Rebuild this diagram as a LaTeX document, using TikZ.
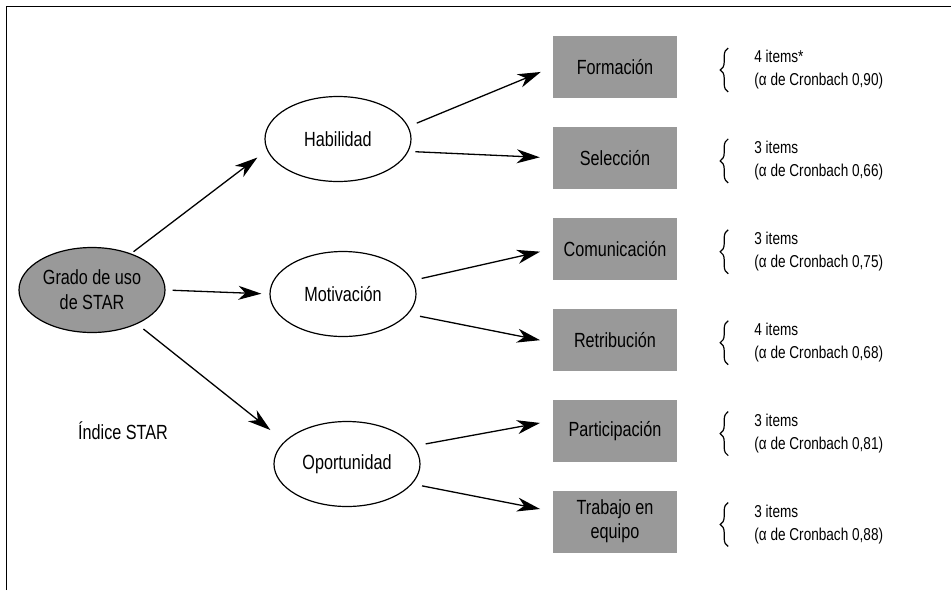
\documentclass[tikz,border=0pt]{standalone}
\usepackage{fontspec}
\setmainfont{Liberation Sans}[FakeStretch=0.79]
\usetikzlibrary{shapes.geometric, arrows.meta, positioning, decorations.pathreplacing}
\definecolor{boxgray}{RGB}{153,153,153}
\begin{document}
\begin{tikzpicture}[
    x=1pt, y=-1pt,
    factor/.style={ellipse, draw, line width=1.2pt, minimum width=146pt, minimum height=85pt, inner sep=0pt, align=center, font=\fontsize{20.5}{25}\selectfont},
    dimension/.style={rectangle, fill=boxgray, minimum width=124pt, minimum height=62pt, inner sep=0pt, align=center, font=\fontsize{20.5}{24}\selectfont},
    info/.style={inner sep=0pt, align=left, yshift=-3pt, font=\fontsize{17.2}{23}\selectfont},
    arrow/.style={-{Stealth[length=23pt, width=14pt, inset=7pt]}, line width=1.3pt},
    curly/.style={decorate, decoration={brace, amplitude=8pt}, line width=1.2pt}
]
    \useasboundingbox (0,0) rectangle (951,590);
    % frame (top and left only)
    \draw[line width=1.4pt] (6.5,590) -- (6.5,6.5) -- (951,6.5);

    \node[factor, fill=boxgray] (grado) at (92,290) {Grado de uso\\de STAR};
    \node[factor] (hab) at (338,139) {Habilidad};
    \node[factor] (mot) at (343,294) {Motivación};
    \node[factor] (opo) at (347,464) {Oportunidad};
    \node[font=\fontsize{20.5}{24}\selectfont] (indice) at (123,431) {Índice STAR};

    \node[dimension] (form) at (615,67) {Formación};
    \node[dimension, below=28.5pt of form] (sel) {Selección};
    \node[dimension, below=28.5pt of sel] (com) {Comunicación};
    \node[dimension, below=28.5pt of com] (ret) {Retribución};
    \node[dimension, below=28.5pt of ret] (part) {Participación};
    \node[dimension, below=28.5pt of part] (trab) {Trabajo en\\equipo};

    \node[info, right=77pt of form] (iform) {4 items*\\(α de Cronbach 0,90)};
    \node[info, right=77pt of sel] (isel) {3 items\\(α de Cronbach 0,66)};
    \node[info, right=77pt of com] (icom) {3 items\\(α de Cronbach 0,75)};
    \node[info, right=77pt of ret] (iret) {4 items\\(α de Cronbach 0,68)};
    \node[info, right=77pt of part] (ipart) {3 items\\(α de Cronbach 0,81)};
    \node[info, right=77pt of trab] (itrab) {3 items\\(α de Cronbach 0,88)};

    \foreach \n in {iform, isel, icom, iret, ipart, itrab}
        \draw[curly] ([xshift=-26pt, yshift=-22pt]\n.west) -- ([xshift=-26pt, yshift=22pt]\n.west);

    \draw[arrow, shorten <=3pt, shorten >=12pt] (grado.43) -- (hab.189);
    \draw[arrow, shorten <=7pt, shorten >=8pt] (grado.east) -- (mot.west);
    \draw[arrow, shorten <=8pt, shorten >=18pt] (grado.-37) -- (opo.160);

    \draw[arrow, shorten <=9pt, shorten >=13pt] (hab.10) -- (form.west);
    \draw[arrow, shorten <=7pt, shorten >=13pt] (hab.-10) -- (sel.west);
    \draw[arrow, shorten <=9pt, shorten >=13pt] (mot.11) -- (com.west);
    \draw[arrow, shorten <=12pt, shorten >=13pt] (mot.-17) -- ([yshift=-3pt]ret.west);
    \draw[arrow, shorten <=12pt, shorten >=13pt] (opo.15) -- ([yshift=10pt]part.west);
    \draw[arrow, shorten <=10pt, shorten >=13pt] (opo.-17) -- ([yshift=10pt]trab.west);
\end{tikzpicture}
\end{document}
